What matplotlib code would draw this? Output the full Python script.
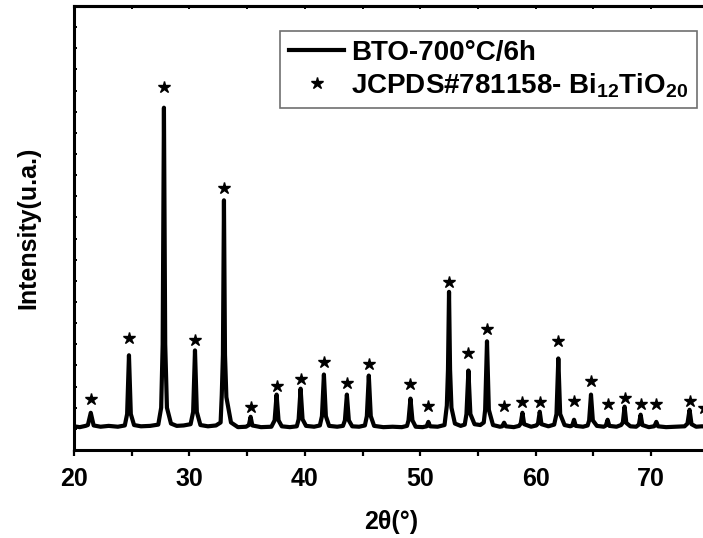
import matplotlib
matplotlib.use('Agg')
import matplotlib.pyplot as plt
from matplotlib.ticker import MultipleLocator, NullFormatter

plt.rcParams['font.family'] = ['Liberation Sans', 'DejaVu Sans']
plt.rcParams['font.weight'] = 'bold'
plt.rcParams['mathtext.fontset'] = 'custom'
plt.rcParams['mathtext.rm'] = 'Liberation Sans:bold'
plt.rcParams['mathtext.it'] = 'Liberation Sans:bold'
plt.rcParams['mathtext.bf'] = 'Liberation Sans:bold'

two_theta = [20.0, 20.5, 21.0,
             21.2, 21.45, 21.7,
             22.3, 23.0, 23.8, 24.4,
             24.6, 24.76, 24.92, 25.2,
             25.8, 26.6, 27.3,
             27.55, 27.68, 27.79, 27.9, 28.05, 28.4,
             28.9, 29.5, 30.1,
             30.32, 30.48, 30.64, 30.95,
             31.6, 32.3, 32.7,
             32.8, 32.9, 32.99, 33.08, 33.2, 33.6,
             34.2, 34.9,
             35.15, 35.3, 35.45,
             36.2, 37.1,
             37.38, 37.55, 37.72, 38.0,
             38.7, 39.3,
             39.46, 39.63, 39.8, 40.1,
             40.8, 41.3,
             41.48, 41.65, 41.82, 42.1,
             42.8, 43.3,
             43.47, 43.64, 43.81, 44.1,
             44.7, 45.2,
             45.37, 45.54, 45.71, 46.0,
             46.8, 47.6, 48.4, 48.85,
             48.98, 49.15, 49.32, 49.6,
             50.2,
             50.55, 50.7, 50.85,
             51.5, 52.1,
             52.3, 52.4, 52.49, 52.58, 52.7, 53.0,
             53.5, 53.85,
             54.0, 54.17, 54.34, 54.7,
             55.2, 55.5,
             55.62, 55.78, 55.94, 56.3,
             56.9,
             57.1, 57.26, 57.42,
             58.1, 58.55,
             58.7, 58.85, 59.0,
             59.6, 60.05,
             60.2, 60.35, 60.5,
             61.1, 61.6,
             61.8, 61.96, 62.12, 62.5,
             63.0,
             63.17, 63.32, 63.47,
             64.1, 64.5,
             64.63, 64.79, 64.95, 65.3,
             65.9,
             66.08, 66.23, 66.38,
             67.0, 67.4,
             67.55, 67.7, 67.85, 68.2,
             68.7,
             68.94, 69.09, 69.24,
             69.8, 70.25,
             70.3, 70.45, 70.6,
             71.3, 72.1, 72.9,
             73.15, 73.33, 73.5, 73.9,
             74.4, 75.0]
intensity = [112, 108, 114,
             118, 176, 116,
             110, 114, 110, 116,
             170, 448, 170, 118,
             112, 114, 120,
             200, 500, 1619, 500, 200, 125,
             114, 116, 122,
             180, 471, 180, 118,
             112, 116, 130,
             260, 450, 1181, 450, 250, 130,
             108, 110,
             118, 157, 116,
             108, 110,
             140, 262, 140, 112,
             108, 112,
             145, 290, 145, 114,
             110, 116,
             160, 357, 160, 114,
             110, 114,
             140, 262, 140, 112,
             110, 116,
             160, 352, 160, 114,
             108, 110, 108, 114,
             140, 243, 140, 110,
             108,
             112, 133, 112,
             110, 118,
             210, 380, 748, 380, 200, 125,
             114, 120,
             170, 376, 170, 122,
             118, 130,
             190, 514, 190, 118,
             110,
             112, 129, 112,
             108, 114,
             125, 176, 122,
             110, 116,
             125, 181, 122,
             112, 120,
             170, 433, 170, 118,
             112,
             116, 143, 114,
             110, 116,
             140, 262, 140, 114,
             110,
             116, 143, 114,
             110, 118,
             130, 205, 128, 112,
             110,
             120, 167, 118,
             108, 112,
             114, 133, 112,
             108, 110, 112,
             125, 190, 122, 110,
             112, 110]

# JCPDS#781158 reflections (star marks)
star_x = [21.45, 24.76, 27.79, 30.48, 32.99, 35.3, 37.55, 39.63, 41.65, 43.64,
          45.54, 49.15, 50.7, 52.49, 54.17, 55.78, 57.26, 58.85, 60.35, 61.96,
          63.32, 64.79, 66.23, 67.7, 69.09, 70.45, 73.33, 74.6]
star_y = [243, 529, 1719, 519, 1238, 205, 305, 338, 414, 319,
          405, 310, 210, 795, 457, 571, 210, 229, 229, 514,
          233, 324, 219, 248, 219, 219, 233, 200]

fig = plt.figure(figsize=(7.03, 5.38), dpi=100)
ax = fig.add_axes([0.1053, 0.1636, 0.903, 0.8252])

ax.plot(two_theta, intensity, color='black', lw=3.0, label='BTO-700°C/6h')
ax.plot(star_x, star_y, '*', ls='none', color='black', ms=9,
        label='JCPDS#781158- Bi$_{12}$TiO$_{20}$')

ax.set_xlim(20, 75)
ax.set_ylim(0, 2100)

# ticks
ax.xaxis.set_major_locator(MultipleLocator(10))
ax.xaxis.set_minor_locator(MultipleLocator(5))
ax.yaxis.set_major_locator(MultipleLocator(100))
ax.yaxis.set_major_formatter(NullFormatter())
ax.tick_params(axis='x', which='both', direction='out', length=4, width=1.6,
               labelsize=18, pad=8)
ax.tick_params(axis='y', which='both', direction='in', length=2.5, width=1.4)
top = ax.secondary_xaxis('top')
top.xaxis.set_major_locator(MultipleLocator(10))
top.xaxis.set_minor_locator(MultipleLocator(5))
top.tick_params(axis='x', which='both', direction='in', length=2.5, width=1.4,
                labeltop=False)
top.spines['top'].set_linewidth(2.2)
for s in ax.spines.values():
    s.set_linewidth(2.2)

ax.set_xlabel('2θ(°)', fontsize=18, fontweight='bold', labelpad=14)
ax.set_ylabel('Intensity(u.a.)', fontsize=18, fontweight='bold', labelpad=21)

legend = ax.legend(loc='upper right', bbox_to_anchor=(0.981, 0.943),
                   borderaxespad=0, fontsize=20, handlelength=2.0,
                   handletextpad=0.25, labelspacing=0.2, borderpad=0.3,
                   fancybox=False, framealpha=1)
legend.get_frame().set_edgecolor('#707070')
legend.get_frame().set_linewidth(1.2)

plt.savefig('out.png', dpi=100)
